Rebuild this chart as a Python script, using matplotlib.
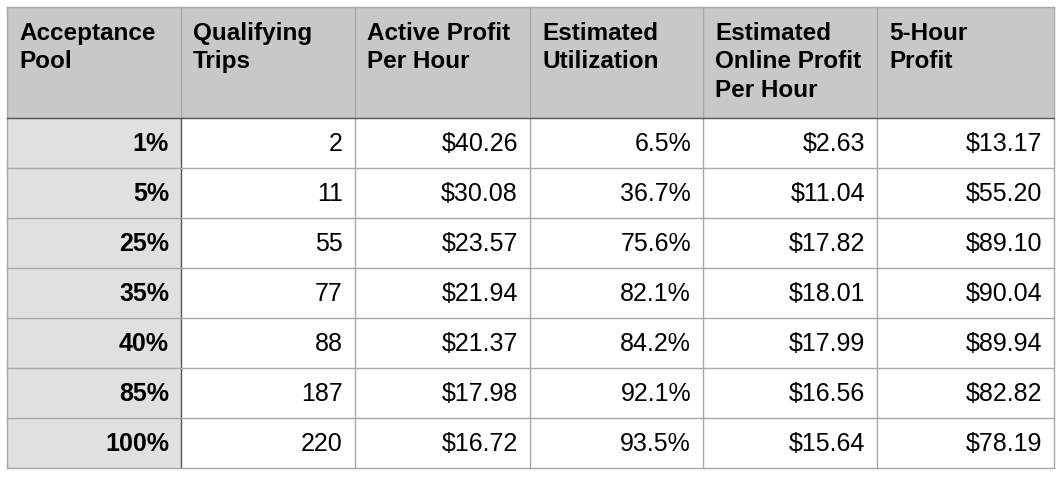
import matplotlib.pyplot as plt
from matplotlib.patches import Rectangle

headers = ["Acceptance\nPool", "Qualifying\nTrips", "Active Profit\nPer Hour",
           "Estimated\nUtilization", "Estimated\nOnline Profit\nPer Hour", "5-Hour\nProfit"]
pool = ["1%", "5%", "25%", "35%", "40%", "85%", "100%"]
trips = ["2", "11", "55", "77", "88", "187", "220"]
active = ["$40.26", "$30.08", "$23.57", "$21.94", "$21.37", "$17.98", "$16.72"]
util = ["6.5%", "36.7%", "75.6%", "82.1%", "84.2%", "92.1%", "93.5%"]
online = ["$2.63", "$11.04", "$17.82", "$18.01", "$17.99", "$16.56", "$15.64"]
five_hour = ["$13.17", "$55.20", "$89.10", "$90.04", "$89.94", "$82.82", "$78.19"]

cols = [pool, trips, active, util, online, five_hour]
xs = [7, 181, 355, 530, 703, 877, 1054]
ys = [7, 118, 168, 218, 268, 318, 368, 418, 468]

plt.rcParams["font.family"] = ["Liberation Sans", "DejaVu Sans"]
fig = plt.figure(figsize=(10.64, 4.8), dpi=100)
ax = fig.add_axes([0, 0, 1, 1])
ax.set_xlim(0, 1064)
ax.set_ylim(480, 0)
ax.axis("off")

# backgrounds
ax.add_patch(Rectangle((xs[0], ys[0]), xs[-1] - xs[0], ys[1] - ys[0], color="#c8c8c8", lw=0))
ax.add_patch(Rectangle((xs[0], ys[1]), xs[1] - xs[0], ys[-1] - ys[1], color="#e0e0e0", lw=0))

# grid
for x in xs:
    c = "#555555" if x == xs[1] else "#a8a8a8"
    ax.plot([x, x], [ys[0], ys[-1]] if x != xs[1] else [ys[1], ys[-1]], color=c, lw=1)
ax.plot([xs[1], xs[1]], [ys[0], ys[1]], color="#a8a8a8", lw=1)
for y in ys:
    c = "#555555" if y == ys[1] else "#a8a8a8"
    ax.plot([xs[0], xs[-1]], [y, y], color=c, lw=1)

for j, h in enumerate(headers):
    ax.text(xs[j] + 12, ys[0] + 15, h, ha="left", va="top", fontsize=17.5,
            fontweight="bold", linespacing=1.3)

for j, col in enumerate(cols):
    for i, v in enumerate(col):
        ax.text(xs[j + 1] - 12, (ys[i + 1] + ys[i + 2]) / 2 + 1, v, ha="right", va="center",
                fontsize=18, fontweight="bold" if j == 0 else "normal")

fig.savefig("out.png", dpi=100)
